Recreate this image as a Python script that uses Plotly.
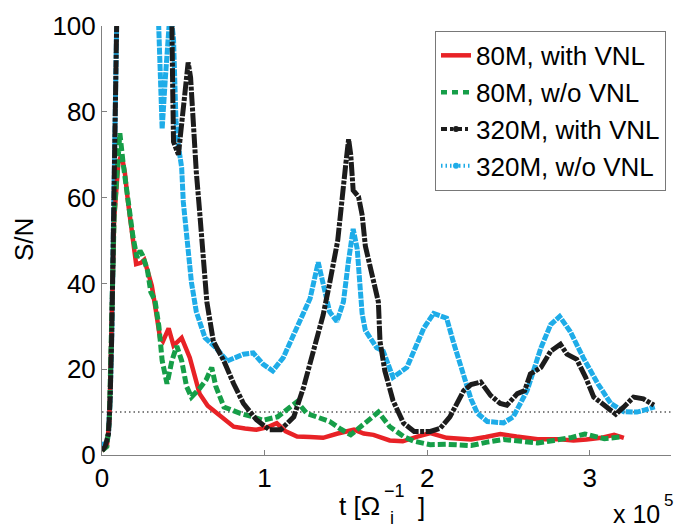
import plotly.graph_objects as go

# Time axis in units of 1e5 / Omega_i, S/N values per run
t_red = [0, 0.02, 0.03, 0.045, 0.055, 0.065, 0.075, 0.09, 0.10, 0.12, 0.14, 0.16, 0.19, 0.21, 0.24, 0.26,
         0.28, 0.306, 0.33, 0.357, 0.375, 0.41, 0.44, 0.49, 0.54, 0.60, 0.65, 0.71, 0.76, 0.81, 0.88, 0.95,
         1.02, 1.075, 1.13, 1.2, 1.28, 1.36, 1.45, 1.55, 1.61, 1.67, 1.77, 1.85, 1.94, 2.02, 2.12, 2.27,
         2.36, 2.45, 2.55, 2.68, 2.8, 2.9, 2.98, 3.07, 3.15, 3.21]
v_red = [1, 1.5, 2, 8, 20, 40, 55, 64, 68, 70, 66, 59, 51, 44.5, 44.8, 45.5,
         43, 39.5, 34, 27.3, 26.5, 29.5, 25.5, 27.3, 22.7, 14.3, 11.5, 9.7, 8, 6.6, 6.2, 5.9,
         6.5, 7.4, 5.5, 4.3, 4.2, 4.0, 5.0, 5.9, 5.0, 4.7, 3.4, 3.2, 4.3, 5.1, 4.0, 3.6,
         4.2, 4.9, 4.3, 3.7, 3.7, 3.4, 3.6, 4.0, 4.7, 4.0]

t_green = [0, 0.02, 0.03, 0.045, 0.055, 0.065, 0.075, 0.09, 0.11, 0.13, 0.16, 0.19, 0.215, 0.234, 0.25,
           0.28, 0.30, 0.326, 0.35, 0.37, 0.40, 0.43, 0.46, 0.49, 0.52, 0.55, 0.60, 0.64, 0.675, 0.70,
           0.75, 0.85, 0.92, 0.99, 1.08, 1.14, 1.2, 1.26, 1.33, 1.4, 1.47, 1.53, 1.62, 1.70, 1.77, 1.81,
           1.86, 1.92, 2.02, 2.12, 2.22, 2.27, 2.37, 2.47, 2.58, 2.68, 2.78, 2.88, 2.97, 3.09, 3.19]
v_green = [1, 1.5, 2, 8, 20, 40, 56, 66, 75, 68, 59, 51, 46, 47.6, 46.5,
           43, 38, 36, 30, 22, 16.6, 22, 25.4, 22, 16, 13.5, 15.5, 17.5, 20.4, 16,
           11.2, 9.7, 9.0, 8.1, 8.9, 10.5, 12.4, 9.7, 8.8, 7.8, 6.0, 4.7, 7.5, 10, 6.6, 5.5,
           4.2, 3.2, 2.4, 2.5, 2.4, 2.2, 3.0, 3.6, 3.2, 2.8, 3.4, 4.0, 4.9, 3.8, 4.2]

t_black = [0, 0.02, 0.04, 0.05, 0.06, 0.07, 0.08, 0.09, 0.10, 0.25, 0.40, 0.43, 0.435, 0.44, 0.47, 0.49,
           0.52, 0.53, 0.545, 0.56, 0.58, 0.60, 0.62, 0.645, 0.685, 0.75, 0.81, 0.87, 0.95, 1.03, 1.10,
           1.18, 1.24, 1.30, 1.36, 1.40, 1.45, 1.50, 1.517, 1.53, 1.545, 1.578, 1.60, 1.62, 1.66, 1.70,
           1.71, 1.74, 1.79, 1.855, 1.92, 2.02, 2.08, 2.14, 2.225, 2.27, 2.33, 2.39, 2.45, 2.49, 2.555,
           2.60, 2.635, 2.70, 2.76, 2.82, 2.86, 2.92, 2.975, 3.025, 3.09, 3.16, 3.21, 3.27, 3.33, 3.395]
v_black = [1, 2, 5, 13, 28, 50, 75, 100, 150, 150, 115, 100, 85, 73, 70, 78,
           90, 91.5, 88, 78, 66, 57, 45.6, 35.7, 26.5, 21.9, 16.6, 12, 8.2, 5.9, 5.9,
           8.9, 15.8, 24.2, 32.6, 40, 50, 68, 73.6, 70, 61.7, 60.2, 56, 48.7, 42.6, 35.7,
           26.5, 19.6, 12.7, 7.4, 5.5, 5.5, 6.2, 8.9, 15, 16.4, 17, 13.9, 12, 11.6, 14.3,
           15, 18.9, 20.4, 24.2, 25.8, 23.5, 22.3, 18.1, 13.5, 11.6, 9.5, 11.2, 13.5, 13.1, 11.6]

t_blue = [0, 0.005, 0.015, 0.03, 0.04, 0.05, 0.06, 0.07, 0.08, 0.09, 0.10, 0.25, 0.34, 0.36, 0.37, 0.39,
          0.42, 0.44, 0.455, 0.47, 0.49, 0.50, 0.52, 0.55, 0.58, 0.634, 0.70, 0.77, 0.87, 0.93, 0.99,
          1.05, 1.115, 1.2, 1.28, 1.33, 1.36, 1.40, 1.445, 1.485, 1.515, 1.545, 1.57, 1.60, 1.62, 1.65,
          1.69, 1.73, 1.79, 1.875, 1.98, 2.04, 2.12, 2.16, 2.22, 2.27, 2.31, 2.37, 2.47, 2.53, 2.615,
          2.70, 2.76, 2.815, 2.88, 2.96, 3.05, 3.13, 3.21, 3.29, 3.34, 3.40]
v_blue = [1, 3, 2, 3, 5, 13, 28, 50, 75, 100, 150, 150, 110, 90, 76, 88,
          104, 97, 78, 72, 67, 59, 51, 40.3, 33.4, 27.3, 25, 21.9, 23.5, 23.8, 21.2,
          19.6, 22.7, 29.6, 36.5, 44.9, 40.3, 33.4, 31.1, 35.7, 44.9, 52.7, 48, 33, 29, 27.3,
          25, 24.2, 18.1, 20.4, 29.6, 33, 31.9, 26.5, 18.9, 13, 9.7, 7.8, 7.5, 8.9, 15,
          25, 30.4, 32.3, 28.8, 22.7, 16.6, 12, 10.1, 10, 10.5, 11.2]

threshold_t = [0, 3.5]
threshold_v = [10, 10]

x_ticks = [0, 1, 2, 3]
y_ticks = [0, 20, 40, 60, 80, 100]

RED = "rgb(232,34,38)"
GREEN = "rgb(22,158,72)"
BLACK = "rgb(28,28,28)"
BLUE = "rgb(30,172,232)"
FONT = "Liberation Sans, Arial, sans-serif"

fig = go.Figure()

fig.add_trace(go.Scatter(x=threshold_t, y=threshold_v, mode="lines", showlegend=False,
                         line=dict(color="rgb(90,90,90)", width=1.5, dash="1.5px,3px")))

# data curves (drawn without legend entries)
fig.add_trace(go.Scatter(x=t_blue, y=v_blue, mode="lines", showlegend=False,
                         line=dict(color=BLUE, width=5, dash="7px,1.2px")))
fig.add_trace(go.Scatter(x=t_red, y=v_red, mode="lines", showlegend=False,
                         line=dict(color=RED, width=4.5)))
fig.add_trace(go.Scatter(x=t_green, y=v_green, mode="lines", showlegend=False,
                         line=dict(color=GREEN, width=5, dash="8px,3px")))
fig.add_trace(go.Scatter(x=t_black, y=v_black, mode="lines", showlegend=False,
                         line=dict(color=BLACK, width=5, dash="14px,1.5px,4px,1.5px")))

# legend entries
legend_items = [
    ("80M, with VNL", dict(color=RED, width=4.5), None),
    ("80M, w/o VNL", dict(color=GREEN, width=4.5, dash="6px,5px"), None),
    ("320M, with VNL", dict(color=BLACK, width=4, dash="6px,3px,3px,3px"), dict(color=BLACK, size=6)),
    ("320M, w/o VNL", dict(color=BLUE, width=4, dash="1.5px,3px"), dict(color=BLUE, size=6)),
]
for name, line, marker in legend_items:
    fig.add_trace(go.Scatter(x=[None], y=[None], name=name,
                             mode="lines+markers" if marker else "lines",
                             line=line, marker=marker or dict(size=1)))

L, R, T, B = 102, 11, 20, 76
W, H = 682, 531
pw, ph = W - L - R, H - T - B


def px(x):
    return (x - L) / pw


def py(y):
    return (H - B - y) / ph


anns = [
    dict(text="S/N", x=px(24), y=py(237), textangle=-90, font=dict(size=26)),
    dict(text="t [Ω", x=px(382), y=py(507), xanchor="right", font=dict(size=26)),
    dict(text="−1", x=px(382), y=py(492), xanchor="left", font=dict(size=18)),
    dict(text="i", x=px(392), y=py(519), font=dict(size=18)),
    dict(text="]", x=px(421), y=py(508), font=dict(size=26)),
    dict(text="x 10", x=px(662), y=py(515), xanchor="right", font=dict(size=25)),
    dict(text="5", x=px(662), y=py(501), xanchor="left", font=dict(size=17)),
]
for a in anns:
    a.update(xref="paper", yref="paper", showarrow=False)
    a.setdefault("xanchor", "center")
    a["yanchor"] = "middle"
    a["font"].update(family=FONT, color="black")

fig.update_layout(
    width=W, height=H,
    margin=dict(l=L, r=R, t=T, b=B),
    paper_bgcolor="white", plot_bgcolor="white",
    font=dict(family=FONT, size=26, color="black"),
    annotations=anns,
    legend=dict(x=px(666), y=py(25), xanchor="right", yanchor="top",
                bgcolor="white", bordercolor="rgb(120,120,120)", borderwidth=1,
                font=dict(size=26, family=FONT), itemwidth=30, tracegroupgap=0),
    xaxis=dict(range=[0, 3.5], tickvals=x_ticks, ticktext=[str(v) for v in x_ticks],
               showgrid=False, zeroline=False, showline=True, linecolor="rgb(128,128,128)",
               linewidth=1, ticks="inside", ticklen=5, tickcolor="rgb(128,128,128)",
               tickfont=dict(size=26)),
    yaxis=dict(range=[0, 100], tickvals=y_ticks, ticktext=[str(v) for v in y_ticks],
               showgrid=False, zeroline=False, showline=True, linecolor="rgb(128,128,128)",
               linewidth=1, ticks="inside", ticklen=5, tickcolor="rgb(128,128,128)",
               tickfont=dict(size=26)),
)

fig.write_html("out.html")
